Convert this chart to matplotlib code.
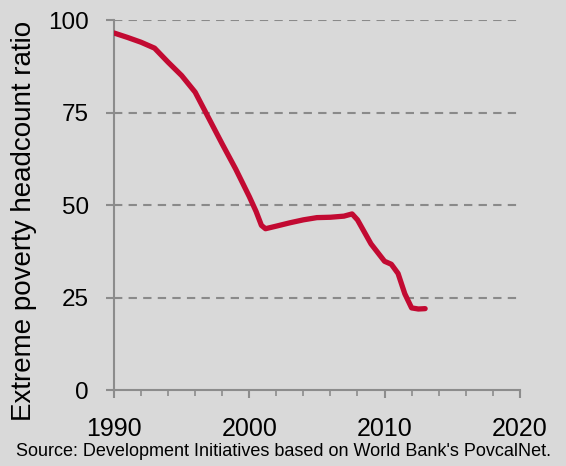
import matplotlib.pyplot as plt
from matplotlib.ticker import MultipleLocator

years = [1990, 1991, 1992, 1993, 1994, 1995, 1996, 1997, 1998, 1999, 2000,
         2000.5, 2000.9, 2001.2, 2002, 2003, 2004, 2005, 2006, 2007, 2007.6,
         2008, 2009, 2010, 2010.5, 2011, 2011.5, 2012, 2012.5, 2013]
ratio = [96.5, 95.3, 94.0, 92.4, 88.6, 85.0, 80.5, 73.5, 66.5, 59.7, 52.3,
         48.3, 44.5, 43.6, 44.3, 45.2, 46.0, 46.6, 46.7, 47.0, 47.6,
         46.0, 39.5, 34.8, 34.0, 31.5, 26.0, 22.2, 21.9, 22.0]

y_ticks = [0, 25, 50, 75, 100]
x_ticks = [1990, 2000, 2010, 2020]
source = "Source: Development Initiatives based on World Bank's PovcalNet."

bg = '#d9d9d9'
axis_grey = '#8c8c8c'

plt.rcParams['font.family'] = ['Liberation Sans', 'DejaVu Sans']

fig = plt.figure(figsize=(5.66, 4.66), dpi=100, facecolor=bg)
ax = fig.add_axes([0.2014, 0.163, 0.717, 0.794])
ax.set_facecolor(bg)

ax.plot(years, ratio, color='#c20a32', linewidth=3.8,
        solid_joinstyle='round', solid_capstyle='round', zorder=3)

ax.set_xlim(1990, 2020)
ax.set_ylim(0, 100)
ax.set_xticks(x_ticks)
ax.set_yticks(y_ticks)
ax.xaxis.set_minor_locator(MultipleLocator(2))

for y in y_ticks[1:]:
    ax.axhline(y, color='#8a8a8a', linewidth=1.5, linestyle=(0, (4, 3)), zorder=1)

for side in ['top', 'right']:
    ax.spines[side].set_visible(False)
for side in ['left', 'bottom']:
    ax.spines[side].set_color(axis_grey)
    ax.spines[side].set_linewidth(1.5)

ax.tick_params(axis='both', which='major', direction='out', length=6,
               width=1.5, color=axis_grey, labelcolor='black')
ax.tick_params(axis='x', which='minor', direction='out', length=4,
               width=1.2, color=axis_grey)
ax.tick_params(axis='x', which='major', pad=13.5, labelsize=18)
ax.tick_params(axis='y', which='major', pad=12, labelsize=17.5)

ax.set_ylabel('Extreme poverty headcount ratio', fontsize=20)
ax.yaxis.set_label_coords(-0.19, 0.457)

fig.text(0.5, 0.012, source, ha='center', va='bottom', fontsize=13)

plt.savefig('out.png', dpi=100, facecolor=bg)
